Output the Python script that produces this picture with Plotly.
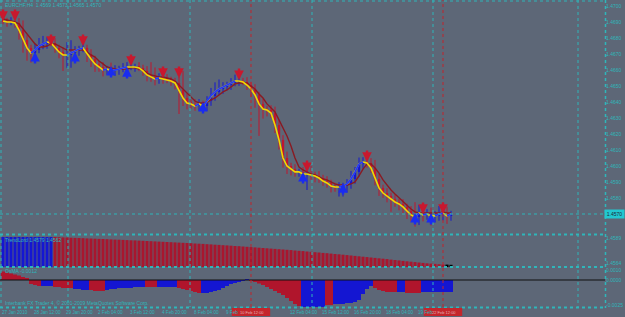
import plotly.graph_objects as go

# ---------------- data ----------------
close = [1.46906, 1.46900, 1.46900, 1.46894, 1.46850, 1.46788, 1.46738, 1.46706, 1.46725, 1.46750,
         1.46763, 1.46775, 1.46769, 1.46738, 1.46713, 1.46694, 1.46694, 1.46706, 1.46719, 1.46731,
         1.46738, 1.46700, 1.46669, 1.46638, 1.46619, 1.46600, 1.46606, 1.46594, 1.46600, 1.46606,
         1.46613, 1.46619, 1.46619, 1.46619, 1.46613, 1.46594, 1.46569, 1.46556, 1.46544, 1.46550,
         1.46544, 1.46538, 1.46531, 1.46519, 1.46475, 1.46425, 1.46394, 1.46388, 1.46375, 1.46388,
         1.46375, 1.46406, 1.46438, 1.46463, 1.46481, 1.46494, 1.46506, 1.46519, 1.46531, 1.46531,
         1.46525, 1.46506, 1.46481, 1.46444, 1.46388, 1.46356, 1.46350, 1.46331, 1.46256, 1.46163,
         1.46050, 1.46000, 1.45981, 1.45963, 1.45963, 1.45950, 1.45950, 1.45944, 1.45938, 1.45925,
         1.45906, 1.45894, 1.45875, 1.45869, 1.45869, 1.45875, 1.45888, 1.45919, 1.45963, 1.46013,
         1.46025, 1.46019, 1.45988, 1.45919, 1.45863, 1.45831, 1.45813, 1.45794, 1.45775, 1.45763,
         1.45744, 1.45719, 1.45694, 1.45681, 1.45706, 1.45694, 1.45700, 1.45688, 1.45688, 1.45700,
         1.45706, 1.45688, 1.45700]
first_open = 1.46913

slow_ma = [1.46919, 1.46913, 1.46906, 1.46900, 1.46888, 1.46856, 1.46831, 1.46794, 1.46763, 1.46744,
           1.46744, 1.46750, 1.46763, 1.46763, 1.46750, 1.46738, 1.46725, 1.46725, 1.46725, 1.46725,
           1.46725, 1.46713, 1.46694, 1.46681, 1.46656, 1.46638, 1.46619, 1.46613, 1.46606, 1.46606,
           1.46606, 1.46606, 1.46613, 1.46613, 1.46606, 1.46600, 1.46581, 1.46569, 1.46563, 1.46556,
           1.46556, 1.46550, 1.46544, 1.46531, 1.46506, 1.46481, 1.46450, 1.46425, 1.46406, 1.46394,
           1.46394, 1.46400, 1.46413, 1.46425, 1.46444, 1.46463, 1.46475, 1.46494, 1.46513, 1.46519,
           1.46519, 1.46519, 1.46500, 1.46481, 1.46450, 1.46425, 1.46388, 1.46363, 1.46338, 1.46288,
           1.46238, 1.46188, 1.46125, 1.46050, 1.45994, 1.45975, 1.45963, 1.45950, 1.45944, 1.45931,
           1.45919, 1.45913, 1.45900, 1.45888, 1.45881, 1.45881, 1.45881, 1.45888, 1.45900, 1.45938,
           1.45981, 1.46013, 1.46013, 1.45988, 1.45956, 1.45913, 1.45881, 1.45850, 1.45825, 1.45800,
           1.45775, 1.45750, 1.45731, 1.45713, 1.45706, 1.45706, 1.45706, 1.45706, 1.45706, 1.45706,
           1.45713, 1.45706, 1.45706]

# wick lengths beyond the body, in pips
wick_up = [2, 2, 3, 2, 3, 6, 3, 2, 4, 5,
           5, 3, 2, 3, 2, 3, 8, 8, 3, 2,
           3, 2, 3, 2, 2, 3, 2, 4, 3, 2,
           3, 3, 2, 2, 3, 2, 3, 8, 6, 3,
           2, 3, 2, 2, 4, 12, 3, 2, 3, 3,
           2, 3, 5, 6, 6, 3, 2, 3, 4, 3,
           2, 3, 2, 3, 2, 3, 2, 3, 4, 3,
           3, 4, 2, 3, 2, 3, 3, 5, 2, 3,
           2, 3, 2, 2, 3, 2, 3, 5, 3, 4,
           3, 3, 3, 5, 3, 2, 3, 2, 3, 2,
           3, 2, 3, 8, 5, 4, 3, 4, 3, 5,
           3, 4, 2]
wick_dn = [2, 3, 2, 3, 6, 8, 8, 6, 3, 2,
           2, 3, 2, 3, 4, 10, 8, 8, 3, 3,
           2, 5, 5, 5, 3, 4, 3, 2, 3, 3,
           2, 3, 2, 3, 2, 3, 4, 3, 4, 3,
           3, 2, 3, 4, 15, 5, 4, 3, 3, 3,
           4, 3, 3, 3, 2, 3, 2, 3, 2, 3,
           2, 3, 5, 8, 20, 6, 4, 3, 5, 6,
           6, 5, 4, 3, 3, 3, 10, 3, 4, 3,
           3, 3, 4, 3, 6, 6, 4, 3, 3, 3,
           3, 3, 3, 4, 5, 3, 4, 8, 3, 4,
           4, 5, 4, 6, 5, 4, 3, 6, 4, 3,
           4, 5, 3]

sell_idx = [0, 3, 12, 20, 32, 40, 44, 59, 76, 91, 105, 110]
sell_price = [1.46944, 1.46944, 1.46788, 1.46788, 1.46663, 1.46588, 1.46588, 1.46575,
              1.46000, 1.46063, 1.45738, 1.45738]
buy_idx = [8, 18, 27, 31, 50, 75, 85, 103, 107]
buy_price = [1.46675, 1.46675, 1.46588, 1.46581, 1.46363, 1.45925, 1.45856, 1.45669, 1.45669]

# TrendLord histogram (points above 1.4560) and its state (1 = up/blue, -1 = down/red)
trend_hist = [30, 30, 30, 30, 30, 30, 30, 30, 30, 30, 30, 30, 30,
              30, 29.8, 29.6, 29.5, 29.3, 29.1, 29.0, 28.8,
              28.6, 28.5, 28.3, 28.1, 28.0, 27.8, 27.6, 27.4, 27.3, 27.1,
              26.9, 26.7, 26.6, 26.4, 26.2, 26.0, 25.8, 25.6, 25.4, 25.2,
              25.0, 24.8, 24.6, 24.4, 24.2, 24.0, 23.8, 23.5, 23.3, 23.1,
              22.8, 22.6, 22.3, 22.1, 21.8, 21.6, 21.3, 21.0, 20.8, 20.5,
              20.2, 19.9, 19.6, 19.3, 19.0, 18.7, 18.4, 18.1, 17.8, 17.5,
              17.2, 16.9, 16.5, 16.2, 15.9, 15.5, 15.2, 14.8, 14.5, 14.1,
              13.8, 13.4, 13.0, 12.7, 12.3, 11.9, 11.5, 11.1, 10.7, 10.3,
              9.9, 9.5, 9.1, 8.7, 8.3, 7.9, 7.4, 7.0, 6.6, 6.1,
              5.7, 5.3, 4.9, 4.5, 4.1, 3.7, 3.4, 3.1, 2.8, 2.6, 2.4, 2.2]
trend_state = [1, 1, 1, 1, 1, 1, 1, 1, 1, 1, 1, 1, 1,
               -1, -1, -1, -1, -1, -1, -1, -1, -1, -1, -1, -1, -1, -1, -1, -1, -1, -1,
               -1, -1, -1, -1, -1, -1, -1, -1, -1, -1, -1, -1, -1, -1, -1, -1, -1, -1, -1, -1,
               -1, -1, -1, -1, -1, -1, -1, -1, -1, -1, -1, -1, -1, -1, -1, -1, -1, -1, -1, -1,
               -1, -1, -1, -1, -1, -1, -1, -1, -1, -1, -1, -1, -1, -1, -1, -1, -1, -1, -1, -1,
               -1, -1, -1, -1, -1, -1, -1, -1, -1, -1, -1, -1, -1, -1, -1, -1, -1, -1, -1, -1]

# lower oscillator (units of 0.0001) and its state
osc = [8.5, 7.5, 6.5, 5.5, 4.5, 3, 1.5,
       -4, -5, -6,
       -6, -6, -6,
       -7, -7, -8, -8, -8,
       -9, -9, -10, -10,
       -10, -11, -11, -11,
       -10, -9, -9, -8, -8, -8, -8, -7, -7, -7,
       -7, -7, -7,
       -7, -7, -7, -7, -7,
       -8, -9, -10, -11, -12, -13,
       -13, -13, -12, -11, -10, -8, -6, -4, -3, -2, -1,
       0.8,
       -0.5, -2, -3.5, -5, -7, -9, -11, -13, -15, -18, -21, -24, -26,
       -27, -27, -27, -27, -27, -27,
       -25, -25,
       -24, -24, -24, -23, -23, -22, -20, -14, -9, -6,
       -8, -10, -11, -12, -12, -12,
       -12, -12,
       -13, -13, -13, -13,
       -12, -12, -12, -12, -12, -12, -12, -12]
osc_state = [-1, -1, -1, -1, -1, -1, -1,
             -1, -1, -1,
             1, 1, 1,
             -1, -1, -1, -1, -1,
             1, 1, 1, 1,
             -1, -1, -1, -1,
             1, 1, 1, 1, 1, 1, 1, 1, 1, 1,
             -1, -1, -1,
             1, 1, 1, 1, 1,
             -1, -1, -1, -1, -1, -1,
             1, 1, 1, 1, 1, 1, 1, 1, 1, 1, 1,
             1,
             -1, -1, -1, -1, -1, -1, -1, -1, -1, -1, -1, -1, -1,
             1, 1, 1, 1, 1, 1,
             -1, -1,
             1, 1, 1, 1, 1, 1, 1, 1, 1, 1,
             -1, -1, -1, -1, -1, -1,
             1, 1,
             -1, -1, -1, -1,
             1, 1, 1, 1, 1, 1, 1, 1]

price_ticks = [1.4700, 1.4690, 1.4680, 1.4670, 1.4660, 1.4650, 1.4640,
               1.4630, 1.4620, 1.4610, 1.4600, 1.4590, 1.4580]
trend_ticks = [1.4589, 1.4564]
osc_ticks = [0.0010, 0.0, -0.0025]

# time labels (the ones partly hidden by the red line labels show only their visible part)
time_idx = [0, 8, 16, 24, 32, 40, 48, 56, 72, 80, 88, 96, 104]
time_labels = ["27 Jan 2010", "28 Jan 12:00", "29 Jan 20:00", "2 Feb 04:00", "3 Feb 12:00",
               "4 Feb 20:00", "8 Feb 04:00", "9 Feb", "12 Feb 04:00",
               "15 Feb 12:00", "16 Feb 20:00", "18 Feb 04:00", "19 Feb"]
vline_idx = [62, 110]
vline_labels = ["10 Feb 12:00", "22 Feb 12:00"]

# ---------------- styling ----------------
W, H = 625, 317
BG = "#5d6777"
CYAN = "#2fb6ba"
RED = "#c0172e"
BLUE = "#1416d2"
YELLOW = "#f3d800"
MAROON = "#8a1a22"
FONT = "Liberation Sans"

n = len(close)
xs = list(range(n))
opens = [first_open] + close[:-1]


def px(x):
    return x / W


def py(y):
    return 1 - y / H


fig = go.Figure()

# candle bodies
body_base, body_len, body_col = [], [], []
for o, c in zip(opens, close):
    body_base.append(min(o, c))
    body_len.append(max(abs(c - o), 0.00004))
    body_col.append(BLUE if c >= o else RED)

# wicks
wx = {BLUE: [], RED: []}
wy = {BLUE: [], RED: []}
for i in range(n):
    col = body_col[i]
    hi = max(opens[i], close[i]) + wick_up[i] * 0.0001
    lo = min(opens[i], close[i]) - wick_dn[i] * 0.0001
    wx[col] += [i, i, None]
    wy[col] += [lo, hi, None]
for col in (RED, BLUE):
    fig.add_trace(go.Scatter(x=wx[col], y=wy[col], mode="lines",
                             line=dict(color=col, width=1), yaxis="y",
                             hoverinfo="skip", showlegend=False))
fig.add_trace(go.Bar(x=xs, y=body_len, base=body_base, width=0.6,
                     marker=dict(color=body_col, line=dict(width=0)),
                     yaxis="y", showlegend=False))

# slow MA (maroon)
fig.add_trace(go.Scatter(x=xs, y=slow_ma, mode="lines",
                         line=dict(color=MAROON, width=1.4), yaxis="y", showlegend=False))
# fast line (yellow)
fig.add_trace(go.Scatter(x=xs, y=close, mode="lines",
                         line=dict(color=YELLOW, width=1.6), yaxis="y", showlegend=False))
# blue overlay where rising
bx, by = [], []
for i in range(1, n):
    if close[i] > close[i - 1]:
        bx += [i - 1, i, None]
        by += [close[i - 1], close[i], None]
fig.add_trace(go.Scatter(x=bx, y=by, mode="lines",
                         line=dict(color="#2038ff", width=1.8), yaxis="y", showlegend=False))

# TrendLord histogram
fig.add_trace(go.Bar(x=xs, y=[h * 0.0001 for h in trend_hist], base=1.4560, width=0.78,
                     marker=dict(color=[BLUE if s > 0 else "#a8162e" for s in trend_state],
                                 line=dict(width=0)),
                     yaxis="y2", showlegend=False))

# oscillator histogram
fig.add_trace(go.Bar(x=xs, y=[v * 0.0001 for v in osc], width=1.0,
                     marker=dict(color=[BLUE if s > 0 else "#b0152c" for s in osc_state],
                                 line=dict(width=0)),
                     yaxis="y3", showlegend=False))

annotations = []
# arrows
for i, p in zip(sell_idx, sell_price):
    annotations.append(dict(x=i, y=p, xref="x", yref="y", text="", showarrow=True,
                            arrowhead=2, arrowsize=0.8, arrowwidth=2.4, arrowcolor="#c8182e",
                            ax=0, ay=-13, yshift=-6))
for i, p in zip(buy_idx, buy_price):
    annotations.append(dict(x=i, y=p, xref="x", yref="y", text="", showarrow=True,
                            arrowhead=2, arrowsize=0.8, arrowwidth=2.4, arrowcolor="#1a2cf0",
                            ax=0, ay=13, yshift=6))

small = dict(family=FONT, size=5, color=CYAN)
tiny = dict(family=FONT, size=4.6, color=CYAN)
annotations.append(dict(x=px(3), y=py(4.5), xref="paper", yref="paper", xanchor="left",
                        yanchor="middle", showarrow=False, font=small,
                        text="EURCHF,H4  1.4569 1.4573 1.4565 1.4570"))
annotations.append(dict(x=px(3), y=py(240), xref="paper", yref="paper", xanchor="left",
                        yanchor="middle", showarrow=False, font=small,
                        text="TrendLord 1.4579 1.4562"))
annotations.append(dict(x=px(3), y=py(271), xref="paper", yref="paper", xanchor="left",
                        yanchor="middle", showarrow=False, font=small,
                        text="OsMA -0.0012"))
annotations.append(dict(x=px(3), y=py(302.5), xref="paper", yref="paper", xanchor="left",
                        yanchor="middle", showarrow=False, font=small,
                        text="Interbank FX Trader 4, © 2001-2009 MetaQuotes Software Corp."))
for i, t in zip(time_idx, time_labels):
    annotations.append(dict(x=i, y=py(312), xref="x", yref="paper", xanchor="left",
                            yanchor="middle", xshift=-3, showarrow=False, font=tiny, text=t))
# current price box
annotations.append(dict(x=1, y=close[-1], xref="paper", yref="y", xanchor="right",
                        yanchor="middle", showarrow=False, text=f"{close[-1]:.4f}",
                        bgcolor="#22c8d0", borderpad=1, width=17,
                        font=dict(family=FONT, size=5, color="#1d2a38")))

shapes = []
dot = dict(color=CYAN, width=1, dash="dot")
# vertical grid
for gx in [68, 190, 312, 433, 578]:
    shapes.append(dict(type="line", xref="paper", yref="paper", x0=px(gx), x1=px(gx),
                       y0=py(0), y1=py(307), line=dot))
# price line
shapes.append(dict(type="line", xref="paper", yref="y", x0=0, x1=px(605),
                   y0=close[-1], y1=close[-1], line=dot))
# borders
shapes.append(dict(type="line", xref="paper", yref="paper", x0=0, x1=px(605),
                   y0=py(1), y1=py(1), line=dot))
shapes.append(dict(type="line", xref="paper", yref="paper", x0=px(1), x1=px(1),
                   y0=py(0), y1=py(307), line=dot))
for sy in [234.5, 267, 307.5]:
    shapes.append(dict(type="line", xref="paper", yref="paper", x0=0, x1=px(605),
                       y0=py(sy), y1=py(sy), line=dict(color=CYAN, width=2, dash="dot")))
shapes.append(dict(type="line", xref="paper", yref="paper", x0=px(605.5), x1=px(605.5),
                   y0=py(0), y1=py(308), line=dict(color=CYAN, width=1.5, dash="dot")))
# zero line in oscillator
shapes.append(dict(type="line", xref="paper", yref="y3", x0=0, x1=px(605), y0=0, y1=0,
                   line=dict(color="#111111", width=1)))
# red vertical lines + labels
for vi, vt in zip(vline_idx, vline_labels):
    shapes.append(dict(type="line", xref="x", yref="paper", x0=vi, x1=vi,
                       y0=py(307), y1=py(0), line=dict(color="#c0242c", width=1, dash="dot")))
    shapes.append(dict(type="rect", xref="x", yref="paper", x0=vi - 4.8, x1=vi + 4.8,
                       y0=py(316), y1=py(308), fillcolor="#c4262c", line=dict(width=0)))
    annotations.append(dict(x=vi, y=py(312), xref="x", yref="paper", showarrow=False,
                            yanchor="middle", text=vt, xshift=1,
                            font=dict(family=FONT, size=4, color="#e6b0b0")))

axis_common = dict(side="right", showgrid=False, zeroline=False, showline=False, ticks="",
                   tickfont=small, automargin=False, fixedrange=True)

fig.update_layout(
    width=W, height=H, template="none",
    margin=dict(l=0, r=0, t=0, b=0, pad=0),
    paper_bgcolor=BG, plot_bgcolor=BG,
    barmode="overlay", showlegend=False,
    xaxis=dict(domain=[0, 605 / W], range=[-0.75, 150.5], visible=False, anchor="y3",
               automargin=False),
    yaxis=dict(domain=[1 - 234 / H, 1], range=[1.45575, 1.470375],
               tickvals=price_ticks, ticktext=[f"{v:.4f}" for v in price_ticks],
               anchor="x", **axis_common),
    yaxis2=dict(domain=[1 - 267 / H, 1 - 235 / H], range=[1.4560, 1.4592],
                tickvals=trend_ticks, ticktext=[f"{v:.4f}" for v in trend_ticks],
                anchor="x", **axis_common),
    yaxis3=dict(domain=[1 - 307 / H, 1 - 267 / H], range=[-0.0027, 0.0013],
                tickvals=osc_ticks, ticktext=[f"{v:.4f}" for v in osc_ticks],
                anchor="x", **axis_common),
    shapes=shapes, annotations=annotations,
)

fig.write_html("out.html")
